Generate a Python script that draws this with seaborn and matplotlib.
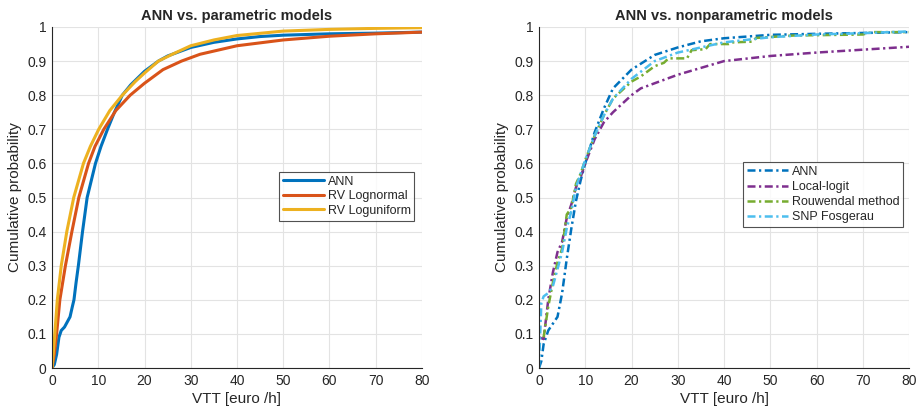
import numpy as np
import pandas as pd
import matplotlib
matplotlib.use("Agg")
import matplotlib.pyplot as plt
import seaborn as sns

# ---------------- data ----------------
ann_x = [0, 0.5, 1, 1.5, 2, 2.7, 3.3, 3.9, 4.4, 4.75, 5.2, 5.7, 6.6, 7.6, 8.5, 9.4, 10.6, 12, 13.5, 15.2, 17, 20, 23, 25, 30, 35, 40, 45, 50, 60, 70, 80]
ann_y = [0, 0.01, 0.04, 0.09, 0.11, 0.12, 0.135, 0.15, 0.18, 0.2, 0.25, 0.3, 0.4, 0.5, 0.55, 0.6, 0.65, 0.7, 0.75, 0.8, 0.83, 0.87, 0.9, 0.915, 0.94, 0.955, 0.965, 0.972, 0.976, 0.98, 0.982, 0.985]

logn_x = [0, 0.5, 1, 1.7, 2.9, 4.3, 5.8, 7.9, 9.3, 11.2, 13.8, 16.9, 20, 24, 28, 32, 40, 50, 60, 70, 80]
logn_y = [0, 0.04, 0.1, 0.2, 0.3, 0.4, 0.5, 0.6, 0.65, 0.7, 0.755, 0.8, 0.835, 0.875, 0.9, 0.92, 0.945, 0.962, 0.973, 0.98, 0.985]

logu_x = [0, 0.5, 1.15, 2.0, 3.2, 4.7, 6.8, 8.3, 10.1, 12.5, 15.2, 18, 20, 23, 26, 30, 35, 40, 50, 60, 70, 80]
logu_y = [0, 0.08, 0.2, 0.3, 0.4, 0.5, 0.6, 0.65, 0.7, 0.755, 0.8, 0.84, 0.865, 0.9, 0.92, 0.945, 0.962, 0.975, 0.988, 0.993, 0.996, 0.998]

ann2_x = [0, 0.5, 1, 2, 3, 4, 5, 6, 7, 8, 9, 10, 12, 14, 16, 20, 25, 30, 35, 40, 50, 60, 80]
ann2_y = [0, 0.02, 0.07, 0.11, 0.13, 0.15, 0.22, 0.32, 0.41, 0.49, 0.55, 0.60, 0.69, 0.76, 0.82, 0.875, 0.918, 0.94, 0.958, 0.967, 0.977, 0.98, 0.985]

ll_x = [0, 1, 2, 3, 4, 5, 6, 7, 8, 9, 10, 12, 14, 16, 20, 22, 30, 40, 50, 60, 80]
ll_y = [0.09, 0.085, 0.20, 0.28, 0.34, 0.37, 0.44, 0.48, 0.53, 0.56, 0.60, 0.67, 0.72, 0.75, 0.80, 0.82, 0.86, 0.90, 0.915, 0.925, 0.942]

rw_x = [1, 2, 3, 4, 5, 6, 7, 8, 9, 10, 12, 14, 16, 20, 22, 25, 27, 28, 32, 33, 36, 37, 41, 42, 46, 47, 55, 70, 72, 80]
rw_y = [0.09, 0.18, 0.25, 0.31, 0.35, 0.45, 0.47, 0.54, 0.57, 0.61, 0.68, 0.74, 0.79, 0.84, 0.855, 0.885, 0.895, 0.908, 0.908, 0.932, 0.935, 0.95, 0.95, 0.955, 0.957, 0.968, 0.975, 0.978, 0.985, 0.985]

snp_x = [0, 0.5, 1, 2, 3, 4, 5, 6, 7, 8, 10, 12, 14, 16, 20, 25, 30, 40, 50, 60, 70, 80]
snp_y = [0, 0.19, 0.21, 0.22, 0.24, 0.29, 0.34, 0.41, 0.46, 0.53, 0.61, 0.68, 0.74, 0.79, 0.848, 0.90, 0.925, 0.955, 0.97, 0.978, 0.982, 0.987]

x_ticks = [0, 10, 20, 30, 40, 50, 60, 70, 80]
y_ticks = [0, 0.1, 0.2, 0.3, 0.4, 0.5, 0.6, 0.7, 0.8, 0.9, 1]
y_ticklabels = ["0", "0.1", "0.2", "0.3", "0.4", "0.5", "0.6", "0.7", "0.8", "0.9", "1"]

# ---------------- style ----------------
sns.set_style("white")
plt.rcParams['font.family'] = ['Liberation Sans', 'DejaVu Sans']

C_BLUE = "#0072BD"
C_ORANGE = "#D95319"
C_YELLOW = "#EDB120"
C_PURPLE = "#7E2F8E"
C_GREEN = "#77AC30"
C_CYAN = "#4DBEEE"

fig = plt.figure(figsize=(9.18, 4.09), dpi=100)
W, H = 918, 409
ax1 = fig.add_axes([52 / W, 1 - 368 / H, 370 / W, 341 / H])
ax2 = fig.add_axes([539 / W, 1 - 368 / H, 370 / W, 341 / H])


def style_axes(ax, title):
    ax.set_xlim(0, 80)
    ax.set_ylim(0, 1)
    ax.set_xticks(x_ticks)
    ax.set_yticks(y_ticks)
    ax.set_yticklabels(y_ticklabels)
    ax.grid(True, color="#e3e3e3", linewidth=0.8)
    ax.set_axisbelow(True)
    for s in ["top", "right"]:
        ax.spines[s].set_visible(False)
    for s in ["left", "bottom"]:
        ax.spines[s].set_color("#262626")
        ax.spines[s].set_linewidth(0.8)
    ax.tick_params(direction="in", length=4, width=0.8, colors="#262626",
                   labelsize=10, pad=4)
    ax.set_xlabel("VTT [euro /h]", fontsize=11, color="#262626", labelpad=3)
    ax.set_ylabel("Cumulative probability", fontsize=11, color="#262626", labelpad=4)
    ax.set_title(title, fontsize=10.5, fontweight="bold", color="#262626", pad=5)


def draw(ax, xs, ys, color, label, ls, lw):
    df = pd.DataFrame({"x": xs, "y": ys})
    sns.lineplot(data=df, x="x", y="y", ax=ax, color=color, label=label,
                 linestyle=ls, linewidth=lw, estimator=None, sort=False)


DD = (0, (3.2, 1.4, 0.9, 1.4))

draw(ax1, ann_x, ann_y, C_BLUE, "ANN", "-", 2.2)
draw(ax1, logn_x, logn_y, C_ORANGE, "RV Lognormal", "-", 2.2)
draw(ax1, logu_x, logu_y, C_YELLOW, "RV Loguniform", "-", 2.2)
style_axes(ax1, "ANN vs. parametric models")
leg1 = ax1.legend(loc="upper left", bbox_to_anchor=(227 / 370, 1 - 145 / 341),
                  fontsize=9, frameon=True, fancybox=False, handlelength=3.3,
                  handletextpad=0.3, borderpad=0.3, labelspacing=0.2,
                  borderaxespad=0)
leg1.get_frame().set_edgecolor("#262626")
leg1.get_frame().set_linewidth(0.8)

draw(ax2, ann2_x, ann2_y, C_BLUE, "ANN", DD, 1.8)
draw(ax2, ll_x, ll_y, C_PURPLE, "Local-logit", DD, 1.8)
draw(ax2, rw_x, rw_y, C_GREEN, "Rouwendal method", DD, 1.8)
draw(ax2, snp_x, snp_y, C_CYAN, "SNP Fosgerau", DD, 1.8)
style_axes(ax2, "ANN vs. nonparametric models")
leg2 = ax2.legend(loc="upper left", bbox_to_anchor=(204 / 370, 1 - 135 / 341),
                  fontsize=9, frameon=True, fancybox=False, handlelength=3.3,
                  handletextpad=0.3, borderpad=0.3, labelspacing=0.25,
                  borderaxespad=0)
leg2.get_frame().set_edgecolor("#262626")
leg2.get_frame().set_linewidth(0.8)

fig.savefig("out.png", dpi=100, facecolor="white")
